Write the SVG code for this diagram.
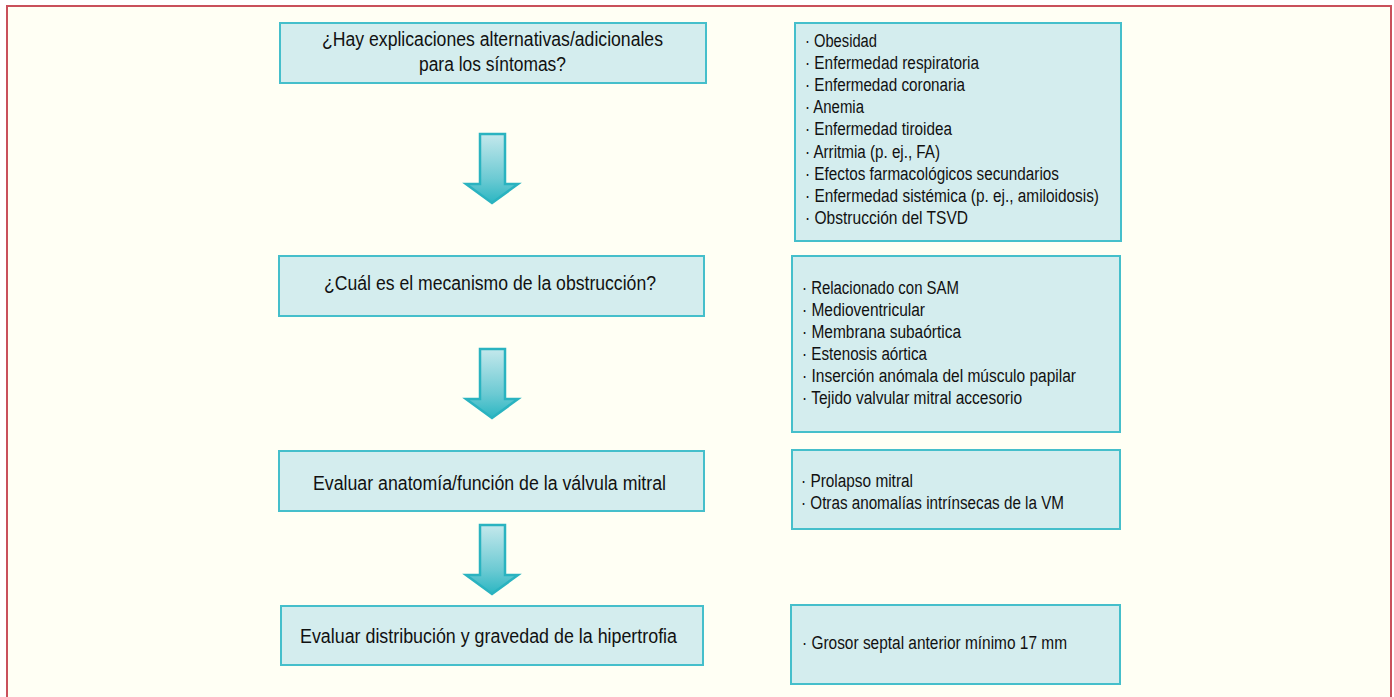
<svg xmlns="http://www.w3.org/2000/svg" width="1394" height="697" viewBox="0 0 1394 697">
  <defs>
    <linearGradient id="arrowGrad" x1="0" y1="0" x2="0" y2="1">
      <stop offset="0" stop-color="#C4E8EC"/>
      <stop offset="0.65" stop-color="#6CCAD3"/>
      <stop offset="1" stop-color="#2BB6C2"/>
    </linearGradient>
    <style>
      .frame { fill: #FFFFF4; stroke: #C9505B; stroke-width: 2; }
      .box { fill: #D4EDEE; stroke: #45BFCB; stroke-width: 2; }
      .arrow { fill: url(#arrowGrad); stroke: #2AB3C0; stroke-width: 2.5; stroke-linejoin: miter; }
      .q { font-family: "Liberation Sans", Arial, sans-serif; font-size: 19.5px; fill: #111111; }
      .li { font-family: "Liberation Sans", Arial, sans-serif; font-size: 18px; fill: #111111; }
    </style>
  </defs>

  <rect x="0" y="0" width="1394" height="697" fill="#FFFFFF"/>
  <rect class="frame" x="7" y="6" width="1384" height="700"/>

  <g id="connectors">
    <path class="arrow" d="M480,134 H505 V184 H518 L492,203 L466,184 H480 Z"/>
    <path class="arrow" d="M480,349 H505 V399 H518 L492,418 L466,399 H480 Z"/>
    <path class="arrow" d="M480,525 H505 V575 H518 L492,594 L466,575 H480 Z"/>
  </g>

  <g id="q1">
    <rect class="box" x="280" y="23" width="426" height="60"/>
    <text class="q" x="322" y="45.5" textLength="341" lengthAdjust="spacingAndGlyphs">¿Hay explicaciones alternativas/adicionales</text>
    <text class="q" x="419" y="71" textLength="147" lengthAdjust="spacingAndGlyphs">para los síntomas?</text>
  </g>

  <g id="l1">
    <rect class="box" x="795" y="23" width="326" height="218"/>
    <text class="li" x="805" y="46.5" textLength="72" lengthAdjust="spacingAndGlyphs">· Obesidad</text>
    <text class="li" x="805" y="68.7" textLength="174" lengthAdjust="spacingAndGlyphs">· Enfermedad respiratoria</text>
    <text class="li" x="805" y="90.9" textLength="160" lengthAdjust="spacingAndGlyphs">· Enfermedad coronaria</text>
    <text class="li" x="805" y="113.1" textLength="59" lengthAdjust="spacingAndGlyphs">· Anemia</text>
    <text class="li" x="805" y="135.3" textLength="147" lengthAdjust="spacingAndGlyphs">· Enfermedad tiroidea</text>
    <text class="li" x="805" y="157.5" textLength="135" lengthAdjust="spacingAndGlyphs">· Arritmia (p. ej., FA)</text>
    <text class="li" x="805" y="179.7" textLength="254" lengthAdjust="spacingAndGlyphs">· Efectos farmacológicos secundarios</text>
    <text class="li" x="805" y="201.9" textLength="294" lengthAdjust="spacingAndGlyphs">· Enfermedad sistémica (p. ej., amiloidosis)</text>
    <text class="li" x="805" y="224.1" textLength="163" lengthAdjust="spacingAndGlyphs">· Obstrucción del TSVD</text>
  </g>

  <g id="q2">
    <rect class="box" x="279" y="256" width="425" height="60"/>
    <text class="q" x="324" y="290" textLength="332" lengthAdjust="spacingAndGlyphs">¿Cuál es el mecanismo de la obstrucción?</text>
  </g>

  <g id="l2">
    <rect class="box" x="792" y="256" width="328" height="176"/>
    <text class="li" x="802" y="293.7" textLength="157" lengthAdjust="spacingAndGlyphs">· Relacionado con SAM</text>
    <text class="li" x="802" y="315.8" textLength="123" lengthAdjust="spacingAndGlyphs">· Medioventricular</text>
    <text class="li" x="802" y="337.9" textLength="159" lengthAdjust="spacingAndGlyphs">· Membrana subaórtica</text>
    <text class="li" x="802" y="360" textLength="125" lengthAdjust="spacingAndGlyphs">· Estenosis aórtica</text>
    <text class="li" x="802" y="382.1" textLength="274" lengthAdjust="spacingAndGlyphs">· Inserción anómala del músculo papilar</text>
    <text class="li" x="802" y="404.2" textLength="220" lengthAdjust="spacingAndGlyphs">· Tejido valvular mitral accesorio</text>
  </g>

  <g id="q3">
    <rect class="box" x="279" y="451" width="425" height="60"/>
    <text class="q" x="313" y="490" textLength="353" lengthAdjust="spacingAndGlyphs">Evaluar anatomía/función de la válvula mitral</text>
  </g>

  <g id="l3">
    <rect class="box" x="792" y="450" width="328" height="79"/>
    <text class="li" x="801" y="486.7" textLength="112" lengthAdjust="spacingAndGlyphs">· Prolapso mitral</text>
    <text class="li" x="801" y="508.7" textLength="263" lengthAdjust="spacingAndGlyphs">· Otras anomalías intrínsecas de la VM</text>
  </g>

  <g id="q4">
    <rect class="box" x="281" y="606" width="422" height="59"/>
    <text class="q" x="300" y="642.5" textLength="377" lengthAdjust="spacingAndGlyphs">Evaluar distribución y gravedad de la hipertrofia</text>
  </g>

  <g id="l4">
    <rect class="box" x="791" y="605" width="329" height="79"/>
    <text class="li" x="802" y="649" textLength="265" lengthAdjust="spacingAndGlyphs">· Grosor septal anterior mínimo 17 mm</text>
  </g>
</svg>
